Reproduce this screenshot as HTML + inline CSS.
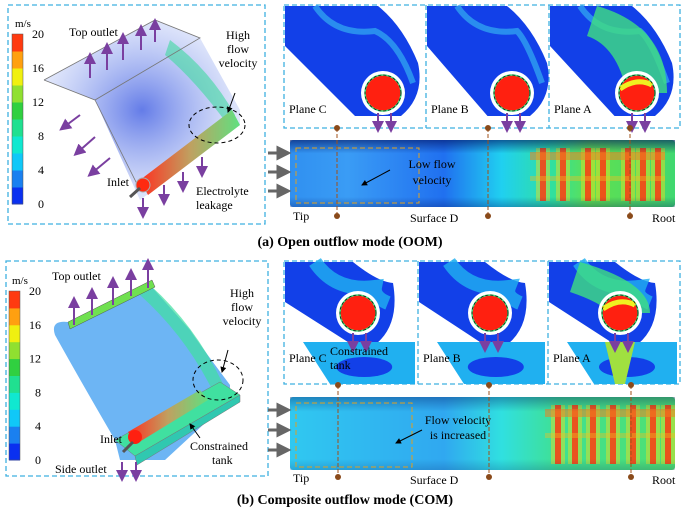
<!DOCTYPE html>
<html><head><meta charset="utf-8"><style>
html,body{margin:0;padding:0;background:#fff}
svg{display:block;font-family:"Liberation Serif",serif}
</style></head><body>
<svg id="fig" width="685" height="511" viewBox="0 0 685 511" xmlns="http://www.w3.org/2000/svg">
<defs>
<marker id="pa" markerWidth="6" markerHeight="6" refX="3" refY="3" orient="auto"><path d="M0,0 L6,3 L0,6 z" fill="#7a3fa0"/></marker>
<marker id="ga" markerWidth="5" markerHeight="5" refX="2.5" refY="2.5" orient="auto"><path d="M0,0 L5,2.5 L0,5 z" fill="#666"/></marker>
<marker id="ka" markerWidth="6" markerHeight="6" refX="5" refY="3" orient="auto"><path d="M0,0 L6,3 L0,6 z" fill="#000"/></marker>
<linearGradient id="cylA" x1="0" x2="1" y1="0" y2="0">
<stop offset="0" stop-color="#3090f0"/><stop offset="0.15" stop-color="#3a9cf5"/><stop offset="0.4" stop-color="#2070f0"/><stop offset="0.55" stop-color="#20d0f0"/><stop offset="0.68" stop-color="#30e0a0"/><stop offset="0.78" stop-color="#60e050"/><stop offset="1" stop-color="#40d870"/></linearGradient>
<linearGradient id="cylB" x1="0" x2="1" y1="0" y2="0">
<stop offset="0" stop-color="#30c8f0"/><stop offset="0.4" stop-color="#30a8f0"/><stop offset="0.55" stop-color="#30e0e0"/><stop offset="0.7" stop-color="#40e090"/><stop offset="1" stop-color="#50e070"/></linearGradient>
<linearGradient id="shade" x1="0" x2="0" y1="0" y2="1">
<stop offset="0" stop-color="#001060" stop-opacity="0.6"/><stop offset="0.2" stop-color="#001060" stop-opacity="0"/><stop offset="0.85" stop-color="#001060" stop-opacity="0"/><stop offset="1" stop-color="#001060" stop-opacity="0.3"/></linearGradient>
<radialGradient id="fog" cx="0.5" cy="0.5" r="0.6"><stop offset="0" stop-color="#3050e0" stop-opacity="0.75"/><stop offset="1" stop-color="#90a8f0" stop-opacity="0.15"/></radialGradient>
<linearGradient id="rod" x1="0" x2="1"><stop offset="0" stop-color="#ff3020"/><stop offset="0.5" stop-color="#c0a060"/><stop offset="1" stop-color="#60e080"/></linearGradient>
</defs>

<!-- ============ (a) OOM ============ -->
<g>
<rect x="8" y="5" width="257" height="219" fill="none" stroke="#3fb0e0" stroke-width="1.3" stroke-dasharray="5,3"/>
<g id="cbA"></g>
<polygon points="44,80 155,20 200,38 240,110 240,125 140,200 95,100" fill="url(#fog)"/>
<path d="M170,40 Q210,70 235,115 L228,125 Q195,80 165,55 Z" fill="#40d8a0" opacity="0.6"/>
<polyline points="44,80 155,20 200,38 95,100 44,80" fill="none" stroke="#777" stroke-width="0.8"/>
<polyline points="95,100 140,190 M200,38 240,115" fill="none" stroke="#777" stroke-width="0.8"/>
<polygon points="140,180 232,110 240,125 148,195" fill="url(#rod)"/>
<circle cx="143" cy="185" r="7" fill="#ff2a10" stroke="#aaa"/>
<line x1="130" y1="197" x2="140" y2="188" stroke="#555" stroke-width="3"/>
<ellipse cx="217" cy="125" rx="28" ry="18" fill="none" stroke="#000" stroke-dasharray="4,3"/>
<g stroke="#7a3fa0" stroke-width="2" marker-end="url(#pa)">
<line x1="90" y1="78" x2="90" y2="58"/><line x1="107" y1="70" x2="107" y2="48"/><line x1="123" y1="60" x2="123" y2="38"/><line x1="141" y1="50" x2="141" y2="30"/><line x1="155" y1="42" x2="155" y2="24"/>
<line x1="80" y1="115" x2="64" y2="127"/><line x1="95" y1="137" x2="78" y2="152"/><line x1="110" y1="158" x2="92" y2="173"/>
<line x1="143" y1="198" x2="143" y2="213"/><line x1="164" y1="185" x2="164" y2="200"/><line x1="183" y1="172" x2="183" y2="187"/><line x1="202" y1="157" x2="202" y2="172"/>
</g>
<line x1="235" y1="93" x2="228" y2="112" stroke="#000" marker-end="url(#ka)"/>
<g font-size="12" fill="#000">
<text x="69" y="36">Top outlet</text>
<text x="227" y="39" text-anchor="middle"><tspan x="238">High</tspan><tspan x="238" dy="14">flow</tspan><tspan x="238" dy="14">velocity</tspan></text>
<text x="107" y="186">Inlet</text>
<text x="196" y="195">Electrolyte</text>
<text x="196" y="209">leakage</text>
</g>
</g>

<g>
<rect x="284" y="5" width="396" height="123" fill="none" stroke="#3fb0e0" stroke-width="1.3" stroke-dasharray="5,3"/>
<line x1="426" y1="5" x2="426" y2="128" stroke="#3fb0e0" stroke-width="1.3" stroke-dasharray="5,3"/>
<line x1="549" y1="5" x2="549" y2="128" stroke="#3fb0e0" stroke-width="1.3" stroke-dasharray="5,3"/>
<g id="pC"></g>
<g id="pB"></g>
<g id="pA"></g>
</g>

<g>
<rect x="290" y="140" width="385" height="67" rx="3" fill="url(#cylA)"/>
<g id="stripesA"></g>
<rect x="290" y="140" width="385" height="67" fill="url(#shade)"/>
<rect x="296" y="148" width="123" height="55" fill="none" stroke="#e0a020" stroke-dasharray="5,3"/>
<g stroke="#666" stroke-width="3" marker-end="url(#ga)"><line x1="268" y1="153" x2="284" y2="153"/><line x1="268" y1="172" x2="284" y2="172"/><line x1="268" y1="191" x2="284" y2="191"/></g>
<line x1="390" y1="170" x2="362" y2="185" stroke="#000" marker-end="url(#ka)"/>
<text x="432" y="168" font-size="12" text-anchor="middle">Low flow</text>
<text x="432" y="184" font-size="12" text-anchor="middle">velocity</text>
<text x="293" y="220" font-size="12">Tip</text>
<text x="410" y="222" font-size="12">Surface D</text>
<text x="652" y="222" font-size="12">Root</text>
</g>
<g id="dotsA"></g>

<text x="350" y="246" font-size="14" font-weight="bold" text-anchor="middle">(a) Open outflow mode (OOM)</text>

<!-- ============ (b) COM ============ -->
<g>
<rect x="6" y="261" width="262" height="215" fill="none" stroke="#3fb0e0" stroke-width="1.3" stroke-dasharray="5,3"/>
<g id="cbB"></g>
<path d="M55,335 Q50,320 68,322 L150,285 L190,330 Q200,345 230,385 L230,400 L165,460 L120,460 L115,440 Q80,380 55,335 Z" fill="#3c9cf0" opacity="0.75"/>
<path d="M150,285 Q200,330 228,395 L218,402 Q190,340 140,295 Z" fill="#40e0a0" opacity="0.7"/>
<polygon points="68,322 152,280 155,287 70,329" fill="#70e050" stroke="#555" stroke-width="0.5"/>
<polygon points="115,440 220,382 240,395 135,456" fill="#40e0a0" stroke="#777" stroke-width="0.5"/>
<polygon points="135,456 240,395 240,402 137,465" fill="#30c8b0" stroke="#777" stroke-width="0.5"/>
<polygon points="128,432 200,390 208,400 136,444" fill="url(#rod)"/>
<circle cx="135" cy="437" r="7" fill="#ff2010"/>
<line x1="123" y1="452" x2="133" y2="442" stroke="#555" stroke-width="3"/>
<ellipse cx="218" cy="380" rx="25" ry="20" fill="none" stroke="#000" stroke-dasharray="4,3"/>
<g stroke="#7a3fa0" stroke-width="2" marker-end="url(#pa)">
<line x1="74" y1="325" x2="74" y2="302"/><line x1="92" y1="315" x2="92" y2="293"/><line x1="113" y1="305" x2="113" y2="282"/><line x1="131" y1="296" x2="131" y2="274"/><line x1="148" y1="288" x2="148" y2="264"/>
<line x1="122" y1="462" x2="122" y2="476"/><line x1="136" y1="462" x2="136" y2="476"/>
</g>
<line x1="228" y1="350" x2="222" y2="372" stroke="#000" marker-end="url(#ka)"/>
<line x1="200" y1="438" x2="190" y2="424" stroke="#000" marker-end="url(#ka)"/>
<g font-size="12">
<text x="52" y="280">Top outlet</text>
<text x="242" y="297" text-anchor="middle"><tspan x="242">High</tspan><tspan x="242" dy="14">flow</tspan><tspan x="242" dy="14">velocity</tspan></text>
<text x="100" y="443">Inlet</text>
<text x="190" y="450">Constrained</text>
<text x="212" y="464">tank</text>
<text x="55" y="473">Side outlet</text>
</g>
</g>

<g>
<rect x="284" y="261" width="396" height="123" fill="none" stroke="#3fb0e0" stroke-width="1.3" stroke-dasharray="5,3"/>
<line x1="418" y1="261" x2="418" y2="384" stroke="#3fb0e0" stroke-width="1.3" stroke-dasharray="5,3"/>
<line x1="548" y1="261" x2="548" y2="384" stroke="#3fb0e0" stroke-width="1.3" stroke-dasharray="5,3"/>
<g id="qC"></g>
<g id="qB"></g>
<g id="qA"></g>
</g>

<g>
<rect x="290" y="397" width="385" height="73" rx="3" fill="url(#cylB)"/>
<g id="stripesB"></g>
<rect x="290" y="397" width="385" height="73" fill="url(#shade)" opacity="0.6"/>
<rect x="296" y="403" width="116" height="64" fill="none" stroke="#e0a020" stroke-dasharray="5,3"/>
<g stroke="#666" stroke-width="3" marker-end="url(#ga)"><line x1="268" y1="410" x2="284" y2="410"/><line x1="268" y1="430" x2="284" y2="430"/><line x1="268" y1="450" x2="284" y2="450"/></g>
<line x1="422" y1="430" x2="396" y2="443" stroke="#000" marker-end="url(#ka)"/>
<text x="458" y="424" font-size="12" text-anchor="middle">Flow velocity</text>
<text x="458" y="439" font-size="12" text-anchor="middle">is increased</text>
<text x="293" y="482" font-size="12">Tip</text>
<text x="410" y="484" font-size="12">Surface D</text>
<text x="652" y="484" font-size="12">Root</text>
</g>
<g id="dotsB"></g>

<text x="345" y="504" font-size="14" font-weight="bold" text-anchor="middle">(b) Composite outflow mode (COM)</text>
</svg>

<script>
const cbColors = ["#0a30f0","#1a80f0","#10c8f8","#10e8d0","#20e090","#30d040","#90e030","#f0f010","#ffa010","#ff3a10"];
const cbTicks = [0,4,8,12,16,20];
const planeNames = ["Plane C","Plane B","Plane A"];
const stripeXA = [540,560,585,600,625,640,655];
const stripeXB = [555,572,590,610,630,650,665];
const NS="http://www.w3.org/2000/svg";
function mk(p,t,a){const e=document.createElementNS(NS,t);for(const k in a)e.setAttribute(k,a[k]);p.appendChild(e);return e;}
function colorbar(id,x,y0,y1){
  const g=document.getElementById(id);const n=cbColors.length;const h=(y1-y0)/n;
  cbColors.forEach((c,i)=>{const r=mk(g,"rect",{x:x,y:y1-(i+1)*h,width:11,height:h+0.5,fill:c});
    
    });
  mk(g,"rect",{x:x,y:y0,width:11,height:y1-y0,fill:"none",stroke:"#555","stroke-width":0.5});
  cbTicks.forEach(v=>{const yy=y1-(v/20)*(y1-y0);
    const t=mk(g,"text",{x:x+32,y:yy+4,"font-size":12,"text-anchor":"end"});t.textContent=v;
    
    });
  const u=mk(g,"text",{x:x+3,y:y0-7,"font-size":11});u.textContent="m/s";
}
colorbar("cbA",12,34,204);
colorbar("cbB",9,291,460);
function plane(id,x0,w,top,cx,cy,label,hot,tank){
  const g=document.getElementById(id);
  const x1=x0+w, b=tank?top+82:top+110;
  mk(g,"path",{d:`M${x0},${top+40} L${x0+w*0.5},${b} L${cx+18},${b} Q${cx+42},${b-20} ${cx+35},${cy-30} Q${cx+20},${top+20} ${cx-5},${top} L${x0},${top} Z`,fill:"#1240e8"});
  mk(g,"path",{d:`M${x0+30},${top} Q${x0+50},${top+30} ${x0+90},${top+25} Q${cx+15},${top+35} ${cx+30},${cy-10}`,fill:"none",stroke:tank?"#20b0f0":"#30a0f0","stroke-width":tank?14:6,opacity:0.8});
  if(hot){mk(g,"path",{d:`M${cx-40},${top} Q${cx+30},${top+20} ${cx+30},${cy} L${cx-10},${cy} Q${cx-20},${top+40} ${cx-50},${top+30}Z`,fill:"#40e080",opacity:0.8});}
  if(tank){mk(g,"path",{d:`M${x0+18},${top+80} L${x1-2},${top+80} L${x1-2},${top+122} L${x0+45},${top+122} Z`,fill:"#20b0f0"});
    mk(g,"ellipse",{cx:x0+w*0.6,cy:top+105,rx:28,ry:10,fill:"#1240e8"});
    if(hot) mk(g,"path",{d:`M${cx-15},${top+80} L${cx+15},${top+80} L${cx+5},${top+122} L${cx-5},${top+122}Z`,fill:"#a0e040"});}
  mk(g,"circle",{cx:cx,cy:cy,r:22,fill:"#fff"});
  mk(g,"circle",{cx:cx,cy:cy,r:18,fill:"#ff2010",stroke:"#40e080","stroke-width":1.5});
  if(hot){mk(g,"path",{d:`M${cx-17},${cy-4} Q${cx},${cy-16} ${cx+15},${cy-8}`,fill:"none",stroke:"#f0f020","stroke-width":5});}
  mk(g,"circle",{cx:cx,cy:cy,r:18,fill:"none",stroke:"#000","stroke-dasharray":"3,2","stroke-width":0.7});
  const ar=[cx-5,cx+8];ar.forEach(a=>mk(g,"line",{x1:a,y1:cy+20,x2:a,y2:cy+34,stroke:"#7a3fa0","stroke-width":2,"marker-end":"url(#pa)"}));
  const t=mk(g,"text",{x:x0+4,y:top+(tank?100:107),"font-size":12});t.textContent=label;
  
  
}
plane("pC",285,140,6,383,93,planeNames[0],false,false);
plane("pB",427,121,6,512,93,planeNames[1],false,false);
plane("pA",550,129,6,637,93,planeNames[2],true,false);
plane("qC",285,132,262,358,313,planeNames[0],false,true);
plane("qB",419,128,262,490,313,planeNames[1],false,true);
plane("qA",549,130,262,620,313,planeNames[2],true,true);
const tc=mk(document.getElementById("qC"),"text",{x:330,y:355,"font-size":12});tc.textContent="Constrained";
const tk=mk(document.getElementById("qC"),"text",{x:330,y:369,"font-size":12});tk.textContent="tank";
function stripes(id,xs,y,h){const g=document.getElementById(id);
  xs.forEach(x=>{mk(g,"rect",{x:x-4,y:y+8,width:14,height:h-14,fill:"#f0e020",opacity:0.45});
    const r=mk(g,"rect",{x:x,y:y+8,width:6,height:h-14,fill:"#ff3010",opacity:0.8});
    
    });
  mk(g,"rect",{x:xs[0]-10,y:y+12,width:xs[xs.length-1]-xs[0]+20,height:8,fill:"#f08020",opacity:0.55});
  mk(g,"rect",{x:xs[0]-10,y:y+36,width:xs[xs.length-1]-xs[0]+20,height:5,fill:"#f0c020",opacity:0.4});
}
stripes("stripesA",stripeXA,140,67);
stripes("stripesB",stripeXB,397,73);
function dots(id,xs,y0,y1){const g=document.getElementById(id);
  xs.forEach(x=>{mk(g,"line",{x1:x,y1:y0,x2:x,y2:y1,stroke:"#a0501a","stroke-dasharray":"4,2"});
    mk(g,"circle",{cx:x,cy:y0,r:3,fill:"#8a4a1a"});mk(g,"circle",{cx:x,cy:y1,r:3,fill:"#8a4a1a"});});}
dots("dotsA",[337,488,630],128,216);
dots("dotsB",[338,489,631],385,477);
</script>
</body></html>
